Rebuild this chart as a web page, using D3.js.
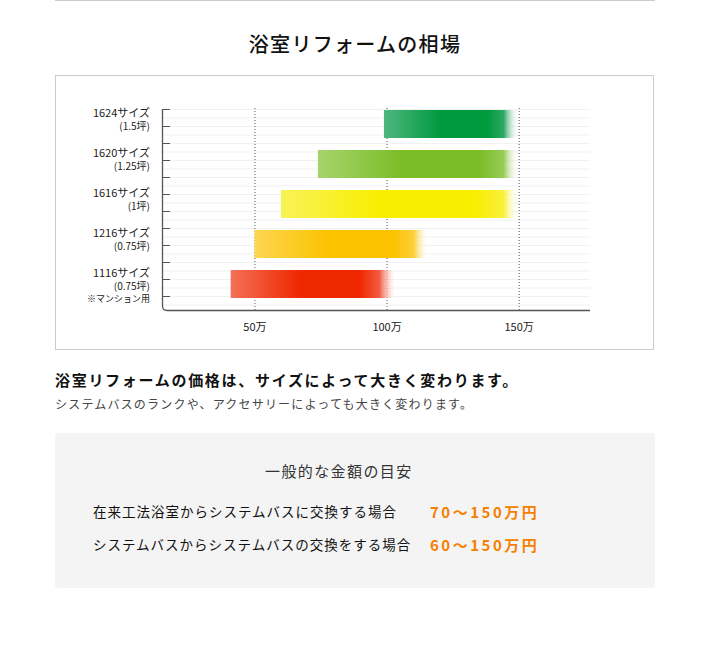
<!DOCTYPE html>
<html>
<head>
<meta charset="utf-8">
<script src="https://cdn.jsdelivr.net/npm/d3@7"></script>
<style>
  body { margin: 0; background: #fff; }
  svg text { font-family: "Noto Sans CJK JP", "Noto Sans", sans-serif; }
</style>
</head>
<body>
<script>
// data
const sizes = ["1624サイズ", "1620サイズ", "1616サイズ", "1216サイズ", "1116サイズ"];
const subLabels = [["(1.5坪)"], ["(1.25坪)"], ["(1坪)"], ["(0.75坪)"], ["(0.75坪)", "※マンション用"]];
const minPrice = [99, 74, 60, 50, 41];
const maxPrice = [150, 150, 150, 116, 103];
const xTicks = [50, 100, 150];
const xTickLabels = ["50万", "100万", "150万"];
const cases = ["在来工法浴室からシステムバスに交換する場合", "システムバスからシステムバスの交換をする場合"];
const ranges = ["70～150万円", "60～150万円"];

// light / mid / right colours of each bar
const palette = [
  ["#50b680", "#009a3e", "#2ea862"],
  ["#a6d46b", "#7bbd27", "#97cd57"],
  ["#f9f258", "#f8ee00", "#f9f03c"],
  ["#fdd652", "#fbc300", "#fdcf3c"],
  ["#f47058", "#f02800", "#f45c42"]
];

const w = 711, h = 668;

const svg = d3.select("body")
              .append("svg")
              .attr("width", w)
              .attr("height", h);

svg.append("line")
   .attr("x1", 55).attr("x2", 655)
   .attr("y1", 0.5).attr("y2", 0.5)
   .attr("stroke", "#ccc");

svg.append("text")
   .text("浴室リフォームの相場")
   .attr("x", 355)
   .attr("y", 52)
   .attr("text-anchor", "middle")
   .attr("font-size", 20)
   .attr("font-weight", 500)
   .attr("letter-spacing", 1.3)
   .attr("fill", "#111");

svg.append("rect")
   .attr("x", 55.5).attr("y", 75.5)
   .attr("width", 598).attr("height", 274)
   .attr("fill", "#fff")
   .attr("stroke", "#ccc");

// scales
const xScale = d3.scaleLinear()
                 .domain([15, 177])
                 .range([162, 590]);

const yScale = d3.scaleBand()
                 .domain(sizes)
                 .range([104, 304])
                 .paddingInner(0.3)
                 .paddingOuter(0.15);

const rowScale = d3.scaleLinear()
                   .domain([0, 24])
                   .range([109, 313]);

// faint row lines
svg.append("g")
   .selectAll("line")
   .data(d3.range(24))
   .enter()
   .append("line")
   .attr("x1", 163).attr("x2", 590)
   .attr("y1", d => rowScale(d) + 0.5)
   .attr("y2", d => rowScale(d) + 0.5)
   .attr("stroke", "#f1f1f1");

// dotted value lines + labels
const xAxis = svg.append("g")
   .attr("transform", "translate(0,310)")
   .call(d3.axisBottom(xScale)
           .tickValues(xTicks)
           .tickSizeInner(-202)
           .tickSizeOuter(0)
           .tickPadding(13)
           .tickFormat((d, i) => xTickLabels[i]));
xAxis.select(".domain").remove();
xAxis.selectAll(".tick line")
     .attr("stroke", "#555")
     .attr("stroke-dasharray", "1,2");
xAxis.selectAll(".tick text")
     .attr("font-size", 11)
     .attr("fill", "#222")
     .style("font-family", "'Noto Sans CJK JP', sans-serif");

// gradients
const defs = svg.append("defs");
sizes.forEach((s, i) => {
  const bw = xScale(maxPrice[i]) - xScale(minPrice[i]);
  const fade = 1 - 15 / bw;
  const g = defs.append("linearGradient")
                .attr("id", "grad" + i)
                .attr("x1", 0).attr("x2", 1)
                .attr("y1", 0).attr("y2", 0);
  g.append("stop").attr("offset", 0).attr("stop-color", palette[i][0]);
  g.append("stop").attr("offset", 0.42).attr("stop-color", palette[i][1]);
  g.append("stop").attr("offset", Math.max(0.6, fade - 0.12)).attr("stop-color", palette[i][1]);
  g.append("stop").attr("offset", fade).attr("stop-color", palette[i][2]);
  g.append("stop").attr("offset", 1).attr("stop-color", "#fff").attr("stop-opacity", i == 4 ? 0.45 : 0.05);
});

svg.selectAll(".bar")
   .data(sizes)
   .enter()
   .append("rect")
   .attr("class", "bar")
   .attr("x", (d, i) => xScale(minPrice[i]))
   .attr("y", d => yScale(d))
   .attr("width", (d, i) => xScale(maxPrice[i]) - xScale(minPrice[i]))
   .attr("height", yScale.bandwidth())
   .attr("fill", (d, i) => "url(#grad" + i + ")");

// left axis ticks
const yAxis = svg.append("g")
   .attr("transform", "translate(162,0)")
   .call(d3.axisRight(rowScale)
           .tickValues(d3.range(0, 24, 2))
           .tickSize(8)
           .tickFormat(""));
yAxis.select(".domain").remove();
yAxis.selectAll(".tick line").attr("stroke", "#555");

svg.append("path")
   .attr("d", "M162.5,109 V306 Q162.5,310.5 167,310.5 H590")
   .attr("fill", "none")
   .attr("stroke", "#555")
   .attr("stroke-width", 1.3);

// category labels, one text per line
sizes.forEach((s, i) => {
  const lines = [s].concat(subLabels[i]);
  svg.append("g")
     .selectAll("text")
     .data(lines)
     .enter()
     .append("text")
     .attr("x", 150)
     .attr("y", (d, j) => yScale(s) + 7 + j * 12.5)
     .attr("text-anchor", "end")
     .attr("font-size", (d, j) => j == 0 ? 11 : (j == 2 ? 9 : 10))
     .attr("fill", "#222")
     .text(d => d);
});

// text below chart
svg.append("text")
   .text("浴室リフォームの価格は、サイズによって大きく変わります。")
   .attr("x", 55)
   .attr("y", 386)
   .attr("font-size", 15)
   .attr("font-weight", "bold")
   .attr("letter-spacing", 1.7)
   .attr("fill", "#111");

svg.append("text")
   .text("システムバスのランクや、アクセサリーによっても大きく変わります。")
   .attr("x", 55)
   .attr("y", 409)
   .attr("font-size", 12)
   .attr("letter-spacing", 1.2)
   .attr("fill", "#444");

// estimate box
svg.append("rect")
   .attr("x", 55).attr("y", 433)
   .attr("width", 600).attr("height", 155)
   .attr("rx", 3)
   .attr("fill", "#f4f4f4");

svg.append("text")
   .text("一般的な金額の目安")
   .attr("x", 265)
   .attr("y", 477)
   .attr("font-size", 15)
   .attr("letter-spacing", 1.4)
   .attr("fill", "#333");

svg.selectAll(".case")
   .data(cases)
   .enter()
   .append("text")
   .attr("class", "case")
   .attr("x", 93)
   .attr("y", (d, i) => 517 + i * 33)
   .attr("font-size", 13.5)
   .attr("letter-spacing", 1)
   .attr("fill", "#111")
   .text(d => d);

svg.selectAll(".range")
   .data(ranges)
   .enter()
   .append("text")
   .attr("class", "range")
   .attr("x", 430)
   .attr("y", (d, i) => 518 + i * 33)
   .attr("font-size", 15)
   .attr("font-weight", "bold")
   .attr("letter-spacing", 2.5)
   .attr("fill", "#f77f00")
   .text(d => d);
</script>
</body>
</html>
